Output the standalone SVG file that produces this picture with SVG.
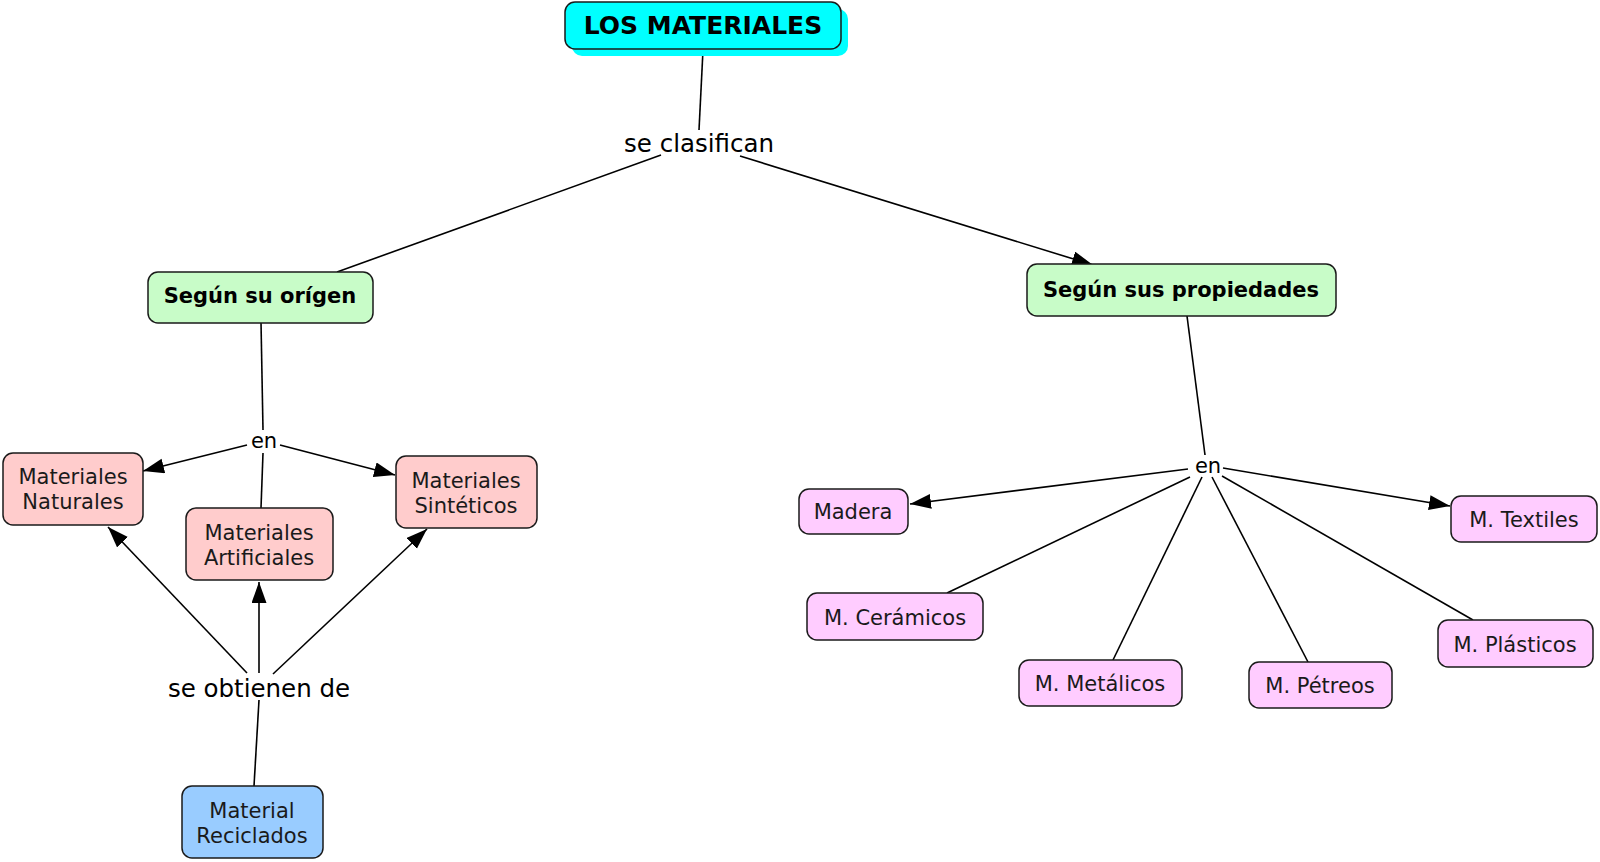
<svg xmlns="http://www.w3.org/2000/svg" width="1600" height="862" viewBox="0 0 1600 862">
<style>
.box{stroke:#1a1a1a;stroke-width:1.5}
.t{font-family:"DejaVu Sans","Verdana",sans-serif;font-size:21px;fill:#1a1a1a;text-anchor:middle}
.b{font-weight:bold;fill:#000}
.big{font-size:25px}
.lbl{font-family:"DejaVu Sans","Verdana",sans-serif;fill:#000;text-anchor:middle}
.c{stroke:#000;stroke-width:1.6;fill:none}
</style>
<defs>
<marker id="arr" markerUnits="userSpaceOnUse" markerWidth="24" markerHeight="16" refX="21" refY="7.5" orient="auto">
<path d="M0,0 L21,7.5 L0,15 z" fill="#000"/>
</marker>
</defs>
<rect width="1600" height="862" fill="#fff"/>
<g id="connectors">
<line class="c" x1="703" y1="50" x2="699" y2="130"/>
<line class="c" x1="661" y1="155" x2="337" y2="272"/>
<line class="c" x1="740" y1="156" x2="1093" y2="265" marker-end="url(#arr)"/>
<line class="c" x1="261" y1="322" x2="263" y2="430"/>
<line class="c" x1="247" y1="445" x2="143" y2="471" marker-end="url(#arr)"/>
<line class="c" x1="280" y1="445" x2="395" y2="475" marker-end="url(#arr)"/>
<line class="c" x1="263" y1="453" x2="261" y2="508"/>
<line class="c" x1="247" y1="673" x2="108" y2="527" marker-end="url(#arr)"/>
<line class="c" x1="259" y1="673" x2="259" y2="582" marker-end="url(#arr)"/>
<line class="c" x1="273" y1="674" x2="427" y2="529" marker-end="url(#arr)"/>
<line class="c" x1="259" y1="700" x2="254" y2="786"/>
<line class="c" x1="1187" y1="316" x2="1205" y2="455"/>
<line class="c" x1="1188" y1="469" x2="910" y2="504" marker-end="url(#arr)"/>
<line class="c" x1="1190" y1="477" x2="947" y2="593"/>
<line class="c" x1="1202" y1="477" x2="1113" y2="660"/>
<line class="c" x1="1212" y1="477" x2="1308" y2="662"/>
<line class="c" x1="1222" y1="476" x2="1473" y2="620"/>
<line class="c" x1="1223" y1="468" x2="1450" y2="506" marker-end="url(#arr)"/>
</g>
<g id="lbl-clasifican"><text class="lbl" x="699" y="152" style="font-size:24.5px">se clasifican</text></g>
<g id="lbl-en1"><text class="lbl" x="264" y="448" style="font-size:21px">en</text></g>
<g id="lbl-obtienen"><text class="lbl" x="259" y="697" style="font-size:24.5px">se obtienen de</text></g>
<g id="lbl-en2"><text class="lbl" x="1208" y="473" style="font-size:21px">en</text></g>
<g id="n-title">
<rect x="572" y="9" width="276" height="47" rx="10" fill="#00ffff"/>
<rect class="box" x="565" y="2" width="276" height="47" rx="10" fill="#00ffff"/>
<text class="t b big" x="703" y="34">LOS MATERIALES</text>
</g>
<g id="n-origen">
<rect class="box" x="148" y="272" width="225" height="51" rx="10" fill="#c8fcc8"/>
<text class="t b" x="260" y="303">Según su orígen</text>
</g>
<g id="n-propiedades">
<rect class="box" x="1027" y="264" width="309" height="52" rx="10" fill="#c8fcc8"/>
<text class="t b" x="1181" y="297">Según sus propiedades</text>
</g>
<g id="n-naturales">
<rect class="box" x="3" y="453" width="140" height="72" rx="10" fill="#ffcccc"/>
<text class="t" x="73" y="484">Materiales</text>
<text class="t" x="73" y="509">Naturales</text>
</g>
<g id="n-artificiales">
<rect class="box" x="186" y="508" width="147" height="72" rx="10" fill="#ffcccc"/>
<text class="t" x="259" y="540">Materiales</text>
<text class="t" x="259" y="565">Artificiales</text>
</g>
<g id="n-sinteticos">
<rect class="box" x="396" y="456" width="141" height="72" rx="10" fill="#ffcccc"/>
<text class="t" x="466" y="488">Materiales</text>
<text class="t" x="466" y="513">Sintéticos</text>
</g>
<g id="n-reciclados">
<rect class="box" x="182" y="786" width="141" height="72" rx="10" fill="#99ccff"/>
<text class="t" x="252" y="818">Material</text>
<text class="t" x="252" y="843">Reciclados</text>
</g>
<g id="n-madera">
<rect class="box" x="799" y="489" width="109" height="45" rx="10" fill="#ffccff"/>
<text class="t" x="853" y="519">Madera</text>
</g>
<g id="n-ceramicos">
<rect class="box" x="807" y="593" width="176" height="47" rx="10" fill="#ffccff"/>
<text class="t" x="895" y="625">M. Cerámicos</text>
</g>
<g id="n-metalicos">
<rect class="box" x="1019" y="660" width="163" height="46" rx="10" fill="#ffccff"/>
<text class="t" x="1100" y="691">M. Metálicos</text>
</g>
<g id="n-petreos">
<rect class="box" x="1249" y="662" width="143" height="46" rx="10" fill="#ffccff"/>
<text class="t" x="1320" y="693">M. Pétreos</text>
</g>
<g id="n-plasticos">
<rect class="box" x="1438" y="620" width="155" height="47" rx="10" fill="#ffccff"/>
<text class="t" x="1515" y="652">M. Plásticos</text>
</g>
<g id="n-textiles">
<rect class="box" x="1451" y="496" width="146" height="46" rx="10" fill="#ffccff"/>
<text class="t" x="1524" y="527">M. Textiles</text>
</g>
</svg>
